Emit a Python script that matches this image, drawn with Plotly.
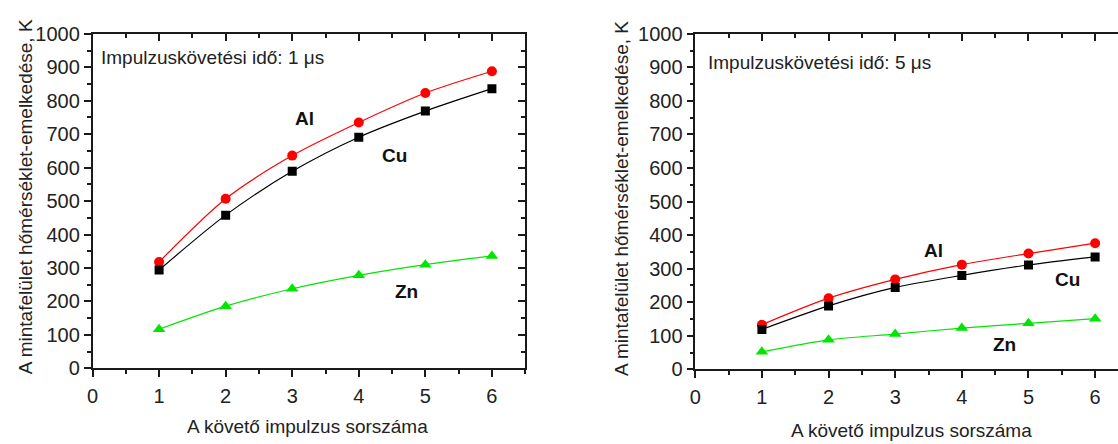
import plotly.graph_objects as go

pulses = [1, 2, 3, 4, 5, 6]

al_1us = [318, 507, 636, 735, 823, 888]
cu_1us = [294, 458, 589, 691, 769, 836]
zn_1us = [117, 186, 238, 278, 310, 336]

al_5us = [133, 212, 268, 312, 345, 376]
cu_5us = [119, 189, 244, 280, 311, 335]
zn_5us = [52, 88, 105, 123, 137, 151]

y_title = "A mintafelület hőmérséklet-emelkedése, K"
x_title = "A követő impulzus sorszáma"
note_1 = "Impulzuskövetési idő: 1 μs"
note_5 = "Impulzuskövetési idő: 5 μs"

FONT = "Liberation Sans, Arial, sans-serif"
AX = "#1a1a1a"

fig = go.Figure()

series = [
    ("Al", "#ff0000", "circle", 10),
    ("Cu", "#000000", "square", 9),
    ("Zn", "#00e600", "triangle-up", 11),
]

data_l = [al_1us, cu_1us, zn_1us]
data_r = [al_5us, cu_5us, zn_5us]

for (name, col, sym, sz), vals in zip(series, data_l):
    fig.add_trace(go.Scatter(x=pulses, y=vals, mode="lines+markers", name=name,
                             line=dict(color=col, width=1.2, shape="spline", smoothing=0.8),
                             marker=dict(color=col, symbol=sym, size=sz),
                             xaxis="x", yaxis="y", showlegend=False))
for (name, col, sym, sz), vals in zip(series, data_r):
    fig.add_trace(go.Scatter(x=pulses, y=vals, mode="lines+markers", name=name,
                             line=dict(color=col, width=1.2, shape="spline", smoothing=0.8),
                             marker=dict(color=col, symbol=sym, size=sz),
                             xaxis="x2", yaxis="y2", showlegend=False))

# invisible traces so the overlay (mirror) axes get drawn
fig.add_trace(go.Scatter(x=[None], y=[None], xaxis="x3", yaxis="y3", showlegend=False, hoverinfo="skip"))
fig.add_trace(go.Scatter(x=[None], y=[None], xaxis="x4", yaxis="y2", showlegend=False, hoverinfo="skip"))

tickfont = dict(family=FONT, size=20, color="#222")

def xax(domain, rng, anchor, **kw):
    d = dict(domain=domain, range=rng, anchor=anchor, dtick=1, tick0=0,
             ticks="outside", ticklen=7, tickwidth=1.5, tickcolor=AX,
             showline=True, linecolor=AX, linewidth=1.5, showgrid=False, zeroline=False,
             tickfont=tickfont, ticklabelstandoff=2,
             minor=dict(dtick=0.5, ticks="outside", ticklen=4, tickwidth=1.5, tickcolor=AX, showgrid=False))
    d.update(kw)
    return d

def yax(domain, anchor, **kw):
    d = dict(domain=domain, range=[0, 1000], anchor=anchor, dtick=100, tick0=0,
             ticks="outside", ticklen=7, tickwidth=1.5, tickcolor=AX,
             showline=True, linecolor=AX, linewidth=1.5, showgrid=False, zeroline=False,
             tickfont=tickfont,
             minor=dict(dtick=50, ticks="outside", ticklen=4, tickwidth=1.5, tickcolor=AX, showgrid=False))
    d.update(kw)
    return d

W, H = 1118, 444
xl = [87 / W, 522 / W]
xr = [693 / W, 1.0]
yl = [(H - 376) / H, (H - 24) / H]
yr = [(H - 377) / H, (H - 24) / H]
r_max = (1118 - 693) / 67.0

inside_minor = lambda dt: dict(dtick=dt, ticks="inside", ticklen=4, tickwidth=1.5, tickcolor=AX, showgrid=False)

fig.update_layout(
    width=W, height=H, margin=dict(l=0, r=0, t=0, b=0),
    paper_bgcolor="white", plot_bgcolor="white",
    xaxis=xax(xl, [0, 6.5], "y"),
    yaxis=yax(yl, "x"),
    xaxis2=xax(xr, [0, r_max], "y2"),
    yaxis2=yax(yr, "x2"),
    xaxis3=xax(xl, [0, 6.5], "y3", overlaying="x", side="top", ticks="inside",
               showticklabels=False, minor=inside_minor(0.5)),
    yaxis3=yax(yl, "x3", overlaying="y", side="right", ticks="inside",
               showticklabels=False, minor=inside_minor(50)),
    xaxis4=xax(xr, [0, r_max], "y2", overlaying="x2", side="top", ticks="inside",
               showticklabels=False, minor=inside_minor(0.5)),
)

txt = dict(family=FONT, size=19, color="#222")
ann = []
ann.append(dict(text=y_title, x=19 / W, y=(H - 195) / H, xref="paper", yref="paper",
                xanchor="center", yanchor="middle",
                textangle=-90, showarrow=False, font=txt))
ann.append(dict(text=y_title, x=619 / W, y=(H - 197) / H, xref="paper", yref="paper",
                xanchor="center", yanchor="middle",
                textangle=-90, showarrow=False, font=txt))
ann.append(dict(text=x_title, x=303 / W, y=(H - 437) / H, xref="paper", yref="paper",
                xanchor="center", yanchor="middle",
                showarrow=False, font=txt))
ann.append(dict(text=x_title, x=910 / W, y=(H - 441) / H, xref="paper", yref="paper",
                xanchor="center", yanchor="middle",
                showarrow=False, font=txt))
ann.append(dict(text=note_1, x=94 / W, y=(H - 49) / H, xref="paper", yref="paper",
                xanchor="left", yanchor="middle", showarrow=False, font=txt))
ann.append(dict(text=note_5, x=704 / W, y=(H - 54) / H, xref="paper", yref="paper",
                xanchor="left", yanchor="middle", showarrow=False, font=txt))

bold = dict(family=FONT, size=19, color="#111")
labels_l = [("<b>Al</b>", 3.18, 747), ("<b>Cu</b>", 4.53, 636), ("<b>Zn</b>", 4.71, 230)]
labels_r = [("<b>Al</b>", 3.57, 354), ("<b>Cu</b>", 5.58, 269), ("<b>Zn</b>", 4.64, 74)]
for t, x, y in labels_l:
    ann.append(dict(text=t, x=x, y=y, xref="x", yref="y", showarrow=False, font=bold))
for t, x, y in labels_r:
    ann.append(dict(text=t, x=x, y=y, xref="x2", yref="y2", showarrow=False, font=bold))

fig.update_layout(annotations=ann)

fig.write_html("out.html")
